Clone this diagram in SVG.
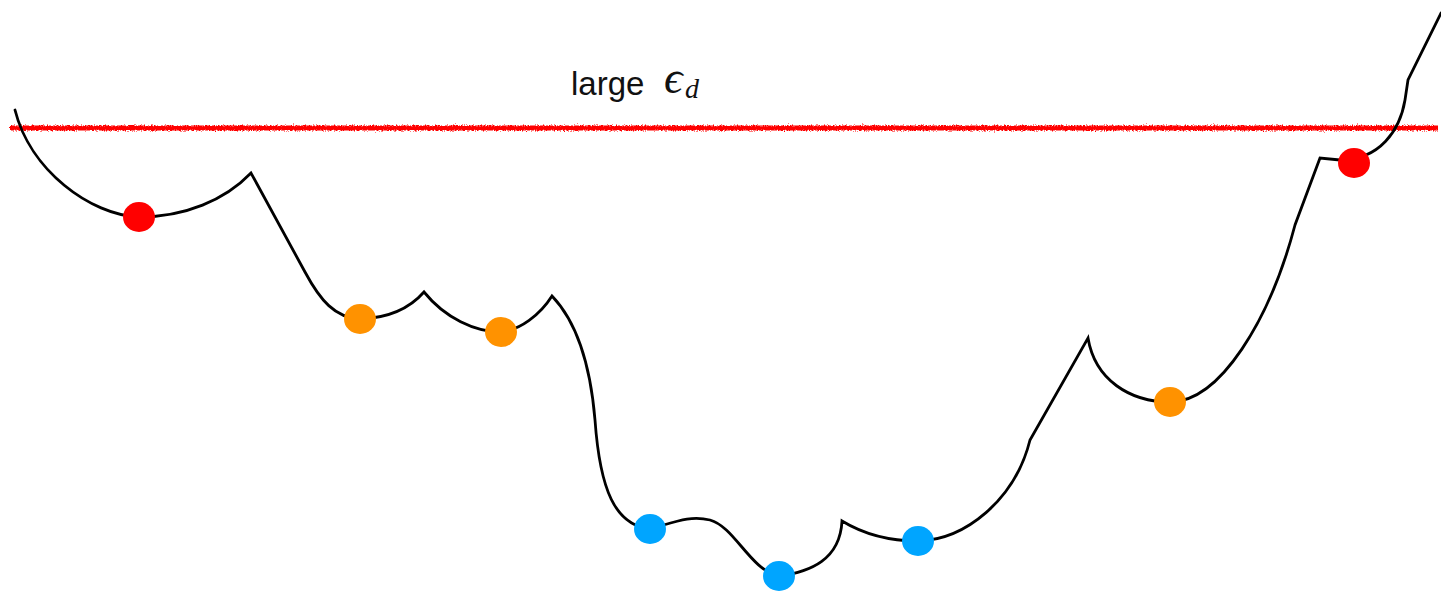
<svg xmlns="http://www.w3.org/2000/svg" width="1441" height="592" viewBox="0 0 1441 592">
<style>
.curve{fill:none;stroke:#000;stroke-width:2.8;stroke-linejoin:miter;stroke-linecap:round}
.red{fill:#ff0000}
.orange{fill:#ff9200}
.blue{fill:#00a5ff}
.lbl{font-family:"Liberation Sans",Arial,sans-serif;font-size:33px;fill:#111}
.math{font-family:"Liberation Serif","DejaVu Serif",serif;font-style:italic;fill:#111}
</style>
<defs>
<filter id="noise" filterUnits="userSpaceOnUse" x="0" y="110" width="1441" height="40">
<feTurbulence type="fractalNoise" baseFrequency="0.9 0.6" numOctaves="2" seed="3" result="t"/>
<feDisplacementMap in="SourceGraphic" in2="t" scale="5" xChannelSelector="R" yChannelSelector="G"/>
</filter>
</defs>
<g id="threshold">
<line x1="10" y1="128" x2="1438" y2="128" stroke="#ff0000" stroke-width="5" filter="url(#noise)"/>
<line x1="10" y1="128" x2="1438" y2="128" stroke="#ff0000" stroke-width="3"/>
</g>
<g id="label">
<text class="lbl" x="571" y="95">large</text>
<text class="math" x="664" y="93" font-size="46">ϵ</text>
<text class="math" x="685" y="98" font-size="28">d</text>
</g>
<g id="connectors">
<path class="curve" d="M15,110 C30,170 90,215 139,217 C185,217 225,200 251,173 L305,272 C320,300 335,318 360,319 C390,318 410,308 424,292 C445,318 475,332 501,332 C520,330 540,315 552,296 C575,320 590,360 595,420 C600,490 615,525 650,529 C675,522 690,515 710,520 C735,527 750,570 779,576 C810,572 840,560 842,521 C865,535 890,541 918,541 C965,540 1015,500 1030,440 L1088,338 C1095,380 1130,402 1170,402 C1220,402 1270,320 1295,225 L1320,158 L1340,160 C1380,160 1400,130 1405,100 L1408,80 L1441,13"/>
</g>
<g id="dot-red-left"><ellipse class="red" cx="139" cy="217" rx="16" ry="15"/></g>
<g id="dot-orange-1"><ellipse class="orange" cx="360" cy="319" rx="16" ry="15"/></g>
<g id="dot-orange-2"><ellipse class="orange" cx="501" cy="332" rx="16" ry="15"/></g>
<g id="dot-blue-1"><ellipse class="blue" cx="650" cy="529" rx="16" ry="15"/></g>
<g id="dot-blue-2"><ellipse class="blue" cx="779" cy="576" rx="16" ry="15"/></g>
<g id="dot-blue-3"><ellipse class="blue" cx="918" cy="541" rx="16" ry="15"/></g>
<g id="dot-orange-3"><ellipse class="orange" cx="1170" cy="402" rx="16" ry="15"/></g>
<g id="dot-red-right"><ellipse class="red" cx="1354" cy="163" rx="16" ry="15"/></g>
</svg>
